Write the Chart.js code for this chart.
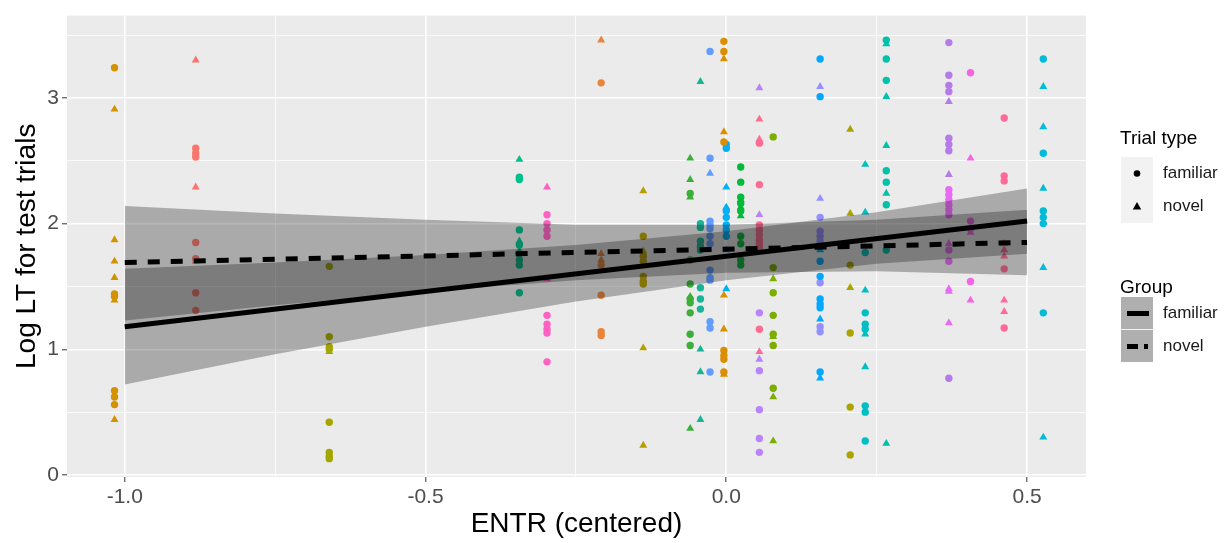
<!DOCTYPE html>
<html>
<head>
<meta charset="utf-8">
<script src="https://cdn.jsdelivr.net/npm/chart.js@4.4.0/dist/chart.umd.min.js"></script>
<style>
  html, body { margin: 0; padding: 0; background: #ffffff; }
  #wrap { width: 1225px; height: 543px; }
</style>
</head>
<body>
<div id="wrap"><canvas id="grafico" width="1225" height="543"></canvas></div>
<script>
// ENTR (centered) of each child -> one column of points
const entr = [-1.017, -0.882, -0.66, -0.344, -0.298, -0.208, -0.138, -0.060, -0.043, -0.027, -0.004,
    0.0, 0.024, 0.055, 0.055, 0.078, 0.156, 0.156, 0.206, 0.231, 0.266, 0.37, 0.37, 0.406, 0.462, 0.527];

// log LT, familiar trials (circles)
const familiarLT = [
    [3.24, 1.44, 1.42, 0.67, 0.62, 0.56],
    [2.60, 2.56, 2.53, 1.85, 1.72, 1.45, 1.31],
    [1.66, 1.10, 1.02, 1.00, 0.42, 0.18, 0.15, 0.13],
    [2.37, 2.35, 1.95, 1.83, 1.76, 1.71, 1.67, 1.45],
    [2.07, 2.00, 1.95, 1.90, 1.27, 1.20, 1.16, 1.13, 0.90],
    [3.12, 1.67, 1.43, 1.14, 1.11],
    [1.90, 1.74, 1.70, 1.58, 1.54, 1.52],
    [2.24, 1.71, 1.52, 1.40, 1.37, 1.29, 1.12, 1.03],
    [2.00, 1.97, 1.86, 1.82, 1.79, 1.49, 1.40, 1.32],
    [3.37, 2.52, 2.02, 1.99, 1.96, 1.90, 1.84, 1.63, 1.57, 1.55, 1.22, 1.17, 0.82],
    [3.45, 3.37, 2.65, 0.99, 0.95, 0.92, 0.82],
    [2.63, 2.60, 2.10, 2.05, 1.99, 1.95, 1.90],
    [2.45, 2.33, 2.21, 2.16, 2.10, 1.90, 1.84, 1.71, 1.67],
    [2.64, 2.31, 1.99, 1.95, 1.91, 1.87, 1.84, 1.81, 1.16],
    [1.29, 0.83, 0.52, 0.29, 0.18],
    [2.69, 1.65, 1.45, 1.27, 1.12, 1.03, 0.69],
    [3.31, 3.01, 1.70, 1.58, 1.40, 1.36, 1.33, 0.82],
    [2.05, 1.94, 1.90, 1.86, 1.53, 1.18, 1.14],
    [1.67, 1.13, 0.54, 0.16],
    [1.77, 1.29, 1.20, 1.16, 0.55, 0.50, 0.27],
    [3.46, 3.31, 3.14, 2.42, 2.33, 2.15, 1.79],
    [3.44, 3.18, 3.10, 3.05, 2.68, 2.63, 2.58, 0.77],
    [2.27, 2.23, 2.19, 2.15, 2.11, 2.07, 1.79, 1.70],
    [3.20, 2.02, 1.96, 1.54],
    [2.84, 2.38, 2.34, 1.64, 1.17],
    [3.31, 2.56, 2.10, 2.05, 2.00, 1.29]
];

// log LT, novel trials (triangles)
const novelLT = [
    [2.91, 1.87, 1.70, 1.57, 1.39, 0.44],
    [3.30, 2.29, 1.70],
    [0.98],
    [2.51, 1.86, 1.78],
    [2.29, 1.56],
    [3.46, 1.76, 1.71],
    [2.26, 1.78, 1.01, 0.235],
    [2.52, 2.35, 2.21, 1.42, 0.37],
    [3.13, 1.00, 0.82, 0.44],
    [2.40],
    [3.31, 2.73, 1.43, 1.16, 0.80],
    [2.29, 2.13, 1.79, 1.48],
    [2.19, 2.13, 2.06],
    [2.83, 2.67, 0.98],
    [3.08, 2.07, 0.92],
    [1.56, 1.10, 0.62, 0.27],
    [1.79, 1.24, 0.77],
    [3.09, 2.20],
    [2.75, 2.08, 1.49],
    [2.47, 2.09, 1.47, 1.12, 0.86],
    [3.43, 3.01, 2.62, 2.24, 0.25],
    [2.97, 2.39],
    [1.84, 1.48, 1.46, 1.21],
    [2.52, 1.93, 1.39],
    [1.84, 1.79, 1.74, 1.39, 1.30],
    [3.09, 2.77, 2.28, 1.65, 0.30]
];

// regression lines per group (ends) and their confidence bands
const fitX = [-1.0, 0.5];
const familiarFit = [1.18, 2.02];
const novelFit = [1.69, 1.85];
const bandX = [-1.0, -0.75, -0.5, -0.25, 0, 0.25, 0.5];
const familiarUpper = [1.64, 1.69, 1.75, 1.83, 1.94, 2.09, 2.28];
const familiarLower = [0.72, 0.96, 1.18, 1.38, 1.55, 1.68, 1.76];
const novelUpper = [2.14, 2.08, 2.03, 1.99, 1.99, 2.03, 2.11];
const novelLower = [1.23, 1.35, 1.46, 1.55, 1.61, 1.62, 1.59];

const xTicks = [-1.0, -0.75, -0.5, -0.25, 0, 0.25, 0.5];
const yTicks = [0, 0.5, 1, 1.5, 2, 2.5, 3, 3.5];

// one colour per child (ggplot hue style)
const cores = ['#D39200', '#F8766D', '#A3A500', '#00C08B', '#FF61C3', '#E8853A', '#B79F00', '#3BAF3A',
    '#19B396', '#619CFF', '#DB8E00', '#00B0F6', '#00BA38', '#FF6C91', '#B983FF', '#7CAE00',
    '#00A9FF', '#9590FF', '#ABA300', '#00BFC4', '#00C1A9', '#B57BE8', '#E76BF3', '#F564E3',
    '#FF6A98', '#00BCD8'];

const fonte = '"Liberation Sans", Arial, sans-serif';
const faixaCor = 'rgba(20,20,20,0.30)';

const datasets = [];

entr.forEach(function (x, i) {
    datasets.push({
        data: familiarLT[i].map(function (y) { return { x: x, y: y }; }),
        showLine: false,
        pointStyle: 'circle',
        pointRadius: 3.7,
        pointBorderWidth: 0,
        backgroundColor: cores[i],
        borderColor: cores[i],
        order: 3
    });
    datasets.push({
        data: novelLT[i].map(function (y) { return { x: x, y: y }; }),
        showLine: false,
        pointStyle: 'triangle',
        pointRadius: 4.6,
        pointBorderWidth: 0,
        backgroundColor: cores[i],
        borderColor: cores[i],
        order: 3
    });
});

function faixa(upper, lower) {
    datasets.push({
        data: bandX.map(function (x, i) { return { x: x, y: upper[i] }; }),
        fill: '+1',
        backgroundColor: faixaCor,
        borderColor: 'rgba(0,0,0,0)',
        borderWidth: 0,
        pointRadius: 0,
        order: 2
    });
    datasets.push({
        data: bandX.map(function (x, i) { return { x: x, y: lower[i] }; }),
        fill: false,
        borderColor: 'rgba(0,0,0,0)',
        borderWidth: 0,
        pointRadius: 0,
        order: 2
    });
}
faixa(familiarUpper, familiarLower);
faixa(novelUpper, novelLower);

datasets.push({
    data: fitX.map(function (x, i) { return { x: x, y: familiarFit[i] }; }),
    borderColor: '#000000',
    borderWidth: 5,
    borderCapStyle: 'butt',
    pointRadius: 0,
    fill: false,
    order: 1
});
datasets.push({
    data: fitX.map(function (x, i) { return { x: x, y: novelFit[i] }; }),
    borderColor: '#000000',
    borderWidth: 5,
    borderDash: [12, 11],
    borderCapStyle: 'butt',
    pointRadius: 0,
    fill: false,
    order: 1
});

const fundoPlugin = {
    id: 'fundo',
    beforeDraw(chart) {
        const c = chart.ctx;
        const a = chart.chartArea;
        c.save();
        c.fillStyle = '#FFFFFF';
        c.fillRect(0, 0, chart.width, chart.height);
        c.fillStyle = '#EBEBEB';
        c.fillRect(a.left, a.top, a.right - a.left, a.bottom - a.top);
        c.restore();
    }
};

const legendaPlugin = {
    id: 'legenda',
    afterDraw(chart) {
        const c = chart.ctx;
        c.save();
        c.textAlign = 'left';
        c.textBaseline = 'middle';

        // Trial type
        c.fillStyle = '#000000';
        c.font = '19px ' + fonte;
        c.fillText('Trial type', 1120, 139);
        c.fillStyle = '#F2F2F2';
        c.fillRect(1121, 157, 32, 66);
        c.fillStyle = '#000000';
        c.beginPath();
        c.arc(1137, 173.5, 3.3, 0, Math.PI * 2);
        c.fill();
        c.beginPath();
        c.moveTo(1137, 202);
        c.lineTo(1141.2, 209.5);
        c.lineTo(1132.8, 209.5);
        c.closePath();
        c.fill();
        c.font = '17px ' + fonte;
        c.fillStyle = '#1A1A1A';
        c.fillText('familiar', 1163, 173.5);
        c.fillText('novel', 1163, 206.5);

        // Group
        c.fillStyle = '#000000';
        c.font = '19px ' + fonte;
        c.fillText('Group', 1120, 288);
        c.fillStyle = '#F2F2F2';
        c.fillRect(1121, 297, 32, 65);
        c.fillStyle = faixaCor;
        c.fillRect(1121, 297, 32, 32);
        c.fillRect(1121, 330, 32, 32);
        c.fillStyle = '#000000';
        c.fillRect(1127, 311, 22, 5);
        c.fillRect(1127, 344, 11, 5);
        c.fillRect(1144, 344, 4, 5);
        c.font = '17px ' + fonte;
        c.fillStyle = '#1A1A1A';
        c.fillText('familiar', 1163, 313.5);
        c.fillText('novel', 1163, 346.5);
        c.restore();
    }
};

function major(v, passo) {
    return Math.abs(v / passo - Math.round(v / passo)) < 1e-9;
}

const ctx = document.getElementById('grafico');
const grafico = new Chart(ctx, {
    type: 'line',
    data: { datasets: datasets },
    plugins: [fundoPlugin, legendaPlugin],
    options: {
        responsive: false,
        animation: false,
        layout: { padding: { top: 9, right: 139, left: 0, bottom: 0 } },
        plugins: {
            legend: { display: false },
            tooltip: { enabled: false }
        },
        scales: {
            x: {
                type: 'linear',
                min: -1.096,
                max: 0.598,
                afterBuildTicks: function (scale) {
                    scale.ticks = xTicks.map(function (v) { return { value: v }; });
                },
                afterFit: function (scale) { scale.height = 66; },
                border: { display: false },
                grid: {
                    color: '#FFFFFF',
                    lineWidth: function (c) { return c.tick && major(c.tick.value, 0.5) ? 1.6 : 0.8; },
                    tickColor: function (c) { return c.tick && major(c.tick.value, 0.5) ? '#333333' : 'rgba(0,0,0,0)'; },
                    tickLength: 5,
                    tickWidth: 1
                },
                ticks: {
                    autoSkip: false,
                    maxRotation: 0,
                    padding: 3,
                    color: '#4D4D4D',
                    font: { family: fonte, size: 21 },
                    callback: function (v) { return major(v, 0.5) ? v.toFixed(1) : ''; }
                },
                title: {
                    display: true,
                    text: 'ENTR (centered)',
                    color: '#000000',
                    font: { family: fonte, size: 28 },
                    padding: { top: 0, bottom: 2 }
                }
            },
            y: {
                type: 'linear',
                min: -0.016,
                max: 3.655,
                afterBuildTicks: function (scale) {
                    scale.ticks = yTicks.map(function (v) { return { value: v }; });
                },
                afterFit: function (scale) { scale.width = 67; },
                border: { display: false },
                grid: {
                    color: '#FFFFFF',
                    lineWidth: function (c) { return c.tick && major(c.tick.value, 1) ? 1.6 : 0.8; },
                    tickColor: function (c) { return c.tick && major(c.tick.value, 1) ? '#333333' : 'rgba(0,0,0,0)'; },
                    tickLength: 5,
                    tickWidth: 1
                },
                ticks: {
                    autoSkip: false,
                    padding: 3,
                    color: '#4D4D4D',
                    font: { family: fonte, size: 21 },
                    callback: function (v) { return major(v, 1) ? String(v) : ''; }
                },
                title: {
                    display: true,
                    text: 'Log LT for test trials',
                    color: '#000000',
                    font: { family: fonte, size: 28 },
                    padding: { top: 10, bottom: 0 }
                }
            }
        }
    }
});
</script>
</body>
</html>
